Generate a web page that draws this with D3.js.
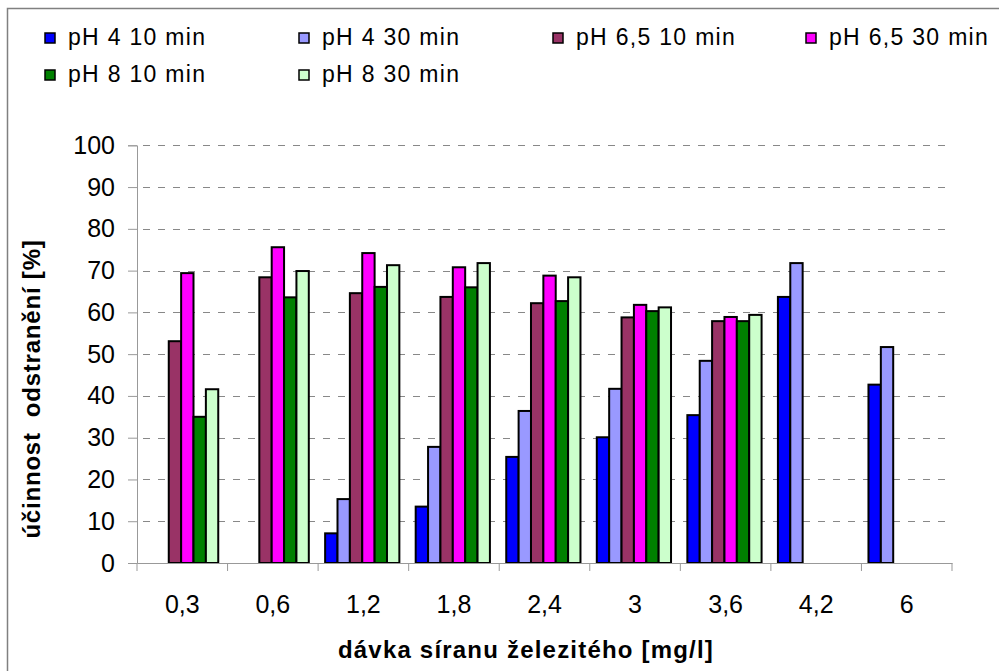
<!DOCTYPE html>
<html>
<head>
<meta charset="utf-8">
<script src="https://cdn.jsdelivr.net/npm/d3@7"></script>
<style>
  html, body { margin: 0; padding: 0; background: #fff; }
  svg { display: block; font-family: "Liberation Sans", Arial, sans-serif; }
</style>
</head>
<body>
<svg id="chart" width="999" height="671"></svg>
<script>
const categories = ["0,3", "0,6", "1,2", "1,8", "2,4", "3", "3,6", "4,2", "6"];
const seriesNames = ["pH 4 10 min", "pH 4 30 min", "pH 6,5 10 min", "pH 6,5 30 min", "pH 8 10 min", "pH 8 30 min"];
const seriesColors = ["#0000FF", "#9999FF", "#993366", "#FF00FF", "#008000", "#CCFFCC"];
const pH4_10 = [null, null, 7.1, 13.5, 25.4, 30.1, 35.4, 63.7, 42.7];
const pH4_30 = [null, null, 15.3, 27.8, 36.4, 41.7, 48.4, 71.8, 51.7];
const pH65_10 = [53.1, 68.4, 64.6, 63.7, 62.2, 58.8, 57.9, null, null];
const pH65_30 = [69.4, 75.6, 74.2, 70.8, 68.8, 61.8, 58.9, null, null];
const pH8_10 = [35.0, 63.6, 66.1, 66.0, 62.7, 60.3, 57.9, null, null];
const pH8_30 = [41.6, 69.9, 71.3, 71.8, 68.4, 61.2, 59.4, null, null];
const yTicks = [0, 10, 20, 30, 40, 50, 60, 70, 80, 90, 100];
const xTitle = "dávka síranu železitého [mg/l]";
const yTitle = "účinnost  odstranění [%]";

const seriesValues = [pH4_10, pH4_30, pH65_10, pH65_30, pH8_10, pH8_30];

const svg = d3.select("#chart");
const plot = { left: 137, right: 952, top: 145.3, bottom: 563 };

// outer frame
svg.append("rect")
  .attr("x", 7.5).attr("y", 8.5)
  .attr("width", 1100).attr("height", 800)
  .attr("fill", "none").attr("stroke", "#808080").attr("stroke-width", 1.5);

const x0 = d3.scaleBand().domain(categories).range([plot.left, plot.right]).paddingInner(0).paddingOuter(0);
const x1 = d3.scaleBand().domain(seriesNames).range([0, x0.bandwidth()]).paddingInner(0).paddingOuter(0.66).align(0.43);
const y = d3.scaleLinear().domain([0, 100]).range([plot.bottom, plot.top]);

// gridlines
svg.append("g").selectAll("line")
  .data(yTicks.filter(d => d > 0))
  .join("line")
  .attr("x1", plot.left + 1).attr("x2", plot.right)
  .attr("y1", d => Math.round(y(d)) + 0.5).attr("y2", d => Math.round(y(d)) + 0.5)
  .attr("stroke", "#888").attr("stroke-width", 1)
  .attr("stroke-dasharray", "7,8").attr("stroke-dashoffset", -5);

// y axis
const yAxis = d3.axisLeft(y).tickValues(yTicks).tickSize(9).tickPadding(13);
const gy = svg.append("g").attr("transform", `translate(${plot.left},0)`).call(yAxis);
gy.select(".domain").attr("stroke", "#999");
gy.selectAll(".tick line").attr("stroke", "#999");
gy.selectAll(".tick text")
  .attr("font-size", 25).attr("fill", "#000")
  .attr("font-family", "'Liberation Sans', Arial, sans-serif");

// bars
const groups = svg.append("g").selectAll("g")
  .data(categories)
  .join("g")
  .attr("transform", d => `translate(${x0(d)},0)`);

groups.selectAll("rect")
  .data((c, i) => seriesNames.map((s, j) => ({ s, v: seriesValues[j][i], color: seriesColors[j] })).filter(d => d.v !== null))
  .join("rect")
  .attr("x", d => x1(d.s))
  .attr("width", x1.bandwidth())
  .attr("y", d => y(d.v))
  .attr("height", d => y(0) - y(d.v))
  .attr("fill", d => d.color)
  .attr("stroke", "#000").attr("stroke-width", 2);

// x axis
const xAxis = d3.axisBottom(x0).tickSize(0).tickPadding(32);
const gx = svg.append("g").attr("transform", `translate(0,${plot.bottom})`).call(xAxis);
gx.select(".domain").attr("stroke", "#999");
gx.selectAll(".tick text")
  .attr("font-size", 25).attr("fill", "#000")
  .attr("font-family", "'Liberation Sans', Arial, sans-serif");
// category boundary ticks
gx.append("g").selectAll("line")
  .data(categories.concat(["end"]))
  .join("line")
  .attr("x1", (d, i) => i < categories.length ? x0(d) : plot.right)
  .attr("x2", (d, i) => i < categories.length ? x0(d) : plot.right)
  .attr("y1", 0).attr("y2", 8)
  .attr("stroke", "#999");

// axis titles
svg.append("text")
  .attr("x", 526).attr("y", 658)
  .attr("text-anchor", "middle")
  .attr("font-size", 24).attr("font-weight", "bold")
  .attr("letter-spacing", 1.2)
  .text(xTitle);

svg.append("text")
  .attr("transform", "translate(40,389) rotate(-90)")
  .attr("text-anchor", "middle")
  .attr("font-size", 24).attr("font-weight", "bold")
  .attr("letter-spacing", 0.8)
  .style("white-space", "pre")
  .text(yTitle);

// legend
const legendX = [45, 299, 553, 806];
const legendY = [33, 70];
const legend = svg.append("g").selectAll("g")
  .data(seriesNames)
  .join("g")
  .attr("transform", (d, i) => `translate(${legendX[i % 4]},${legendY[Math.floor(i / 4)]})`);
legend.append("rect")
  .attr("width", 10).attr("height", 10)
  .attr("fill", (d, i) => seriesColors[i])
  .attr("stroke", "#000").attr("stroke-width", 1.5);
legend.append("text")
  .attr("x", 23).attr("y", 12)
  .attr("font-size", 23)
  .attr("letter-spacing", 1.3)
  .text(d => d);
</script>
</body>
</html>
